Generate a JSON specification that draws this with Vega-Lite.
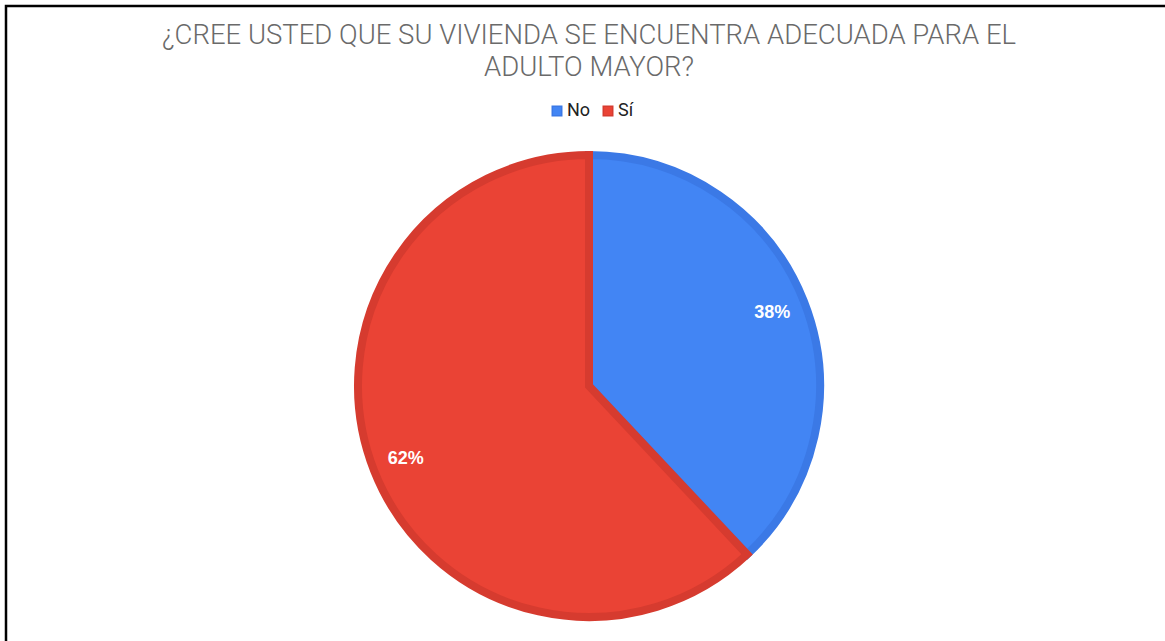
{
  "$schema": "https://vega.github.io/schema/vega-lite/v6.json",
  "autosize": "none",
  "width": 1166,
  "height": 760,
  "padding": {"left": 6, "top": 6, "right": 0, "bottom": 0},
  "background": "white",
  "view": {"stroke": "#000000", "strokeWidth": 2.5, "fill": "white"},
  "config": {
    "view": {"stroke": "#000000", "strokeWidth": 2.5}
  },
  "title": {
    "text": ["¿CREE USTED QUE SU VIVIENDA SE ENCUENTRA ADECUADA PARA EL", "ADULTO MAYOR?"],
    "anchor": "middle",
    "frame": "group",
    "font": "Roboto",
    "fontSize": 27.5,
    "fontWeight": 300,
    "color": "#6a6a6a",
    "lineHeight": 32,
    "offset": -75,
    "baseline": "top"
  },
  "data": {
    "values": [
      {"respuesta": "No", "porcentaje": 38, "etiqueta": "38%"},
      {"respuesta": "Sí", "porcentaje": 62, "etiqueta": "62%"}
    ]
  },
  "encoding": {
    "theta": {"field": "porcentaje", "type": "quantitative", "stack": true},
    "order": {"field": "respuesta", "type": "nominal"}
  },
  "layer": [
    {
      "mark": {"type": "arc", "radius": 231, "strokeWidth": 8, "strokeJoin": "miter"},
      "encoding": {
        "color": {
          "field": "respuesta",
          "type": "nominal",
          "scale": {"domain": ["No", "Sí"], "range": ["#4285F4", "#EA4335"]},
          "legend": {
            "title": null,
            "orient": "none",
            "direction": "horizontal",
            "legendX": 542,
            "legendY": 96,
            "symbolType": "square",
            "symbolSize": 90,
            "symbolOffset": 0,
            "labelFont": "Roboto",
            "labelFontSize": 18,
            "labelColor": "#222222",
            "labelOffset": 1,
            "columnPadding": 8
          }
        },
        "stroke": {
          "field": "respuesta",
          "type": "nominal",
          "scale": {"domain": ["No", "Sí"], "range": ["#3B79E6", "#D63B2F"]},
          "legend": null
        }
      }
    },
    {
      "mark": {"type": "text", "radius": 197, "font": "Arial", "fontSize": 18, "fontWeight": "bold", "color": "#FFFFFF"},
      "encoding": {
        "text": {"field": "etiqueta", "type": "nominal"}
      }
    }
  ]
}
